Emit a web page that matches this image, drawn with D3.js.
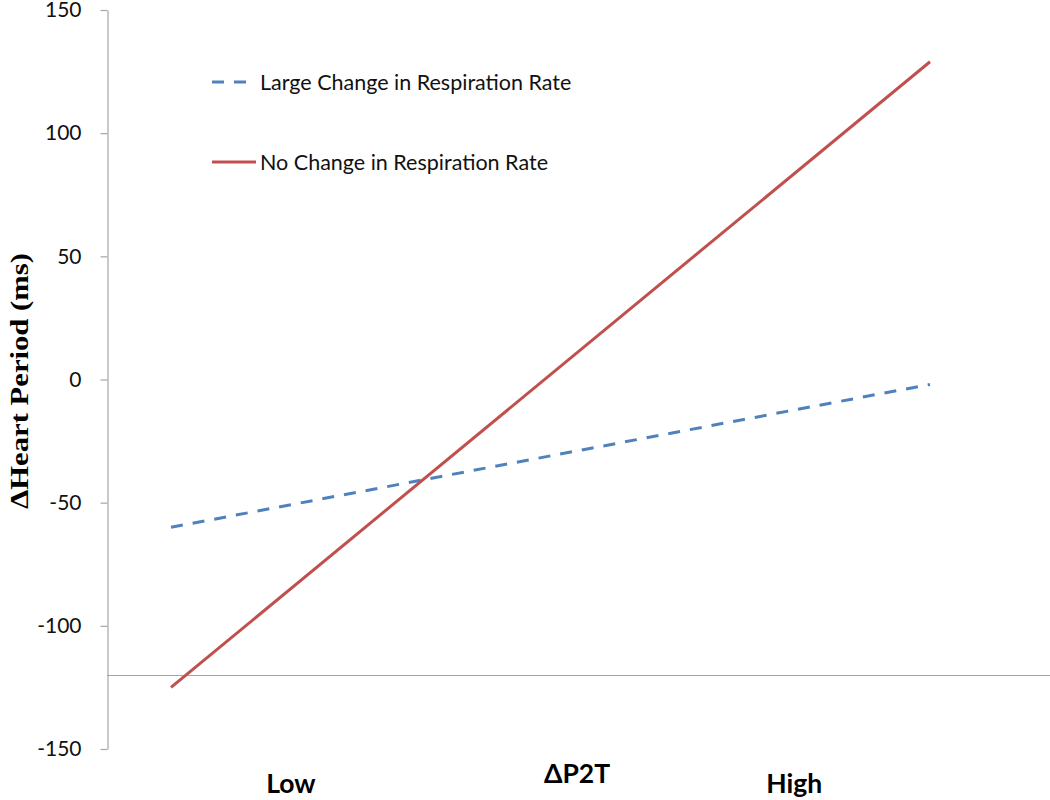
<!DOCTYPE html>
<html>
<head>
<meta charset="utf-8">
<script src="https://cdn.jsdelivr.net/npm/d3@7"></script>
<style>
  html, body { margin: 0; padding: 0; background: #fff; }
  svg { display: block; }
</style>
</head>
<body>
<div id="chart"></div>
<script>
// ── data ─────────────────────────────────────────────
const seriesNames = ['Large Change in Respiration Rate', 'No Change in Respiration Rate'];
const xPoints = [0, 1];              // low → high ΔP2T
const largeChange = [-60, -2];
const noChange = [-125, 129];
const yTicks = [-150, -100, -50, 0, 50, 100, 150];
const baselineValue = -120;
const xLabels = ['Low', 'ΔP2T', 'High'];
const xLabelPos = [0.158, 0.535, 0.821]; // in x-scale units

const W = 1050, H = 800;
const COLOR = { large: '#4f81bd', none: '#c0504d', axis: '#a6a6a6', text: '#111' };
const SANS = "Lato, 'Open Sans', sans-serif";

const svg = d3.select('#chart').append('svg')
  .attr('width', W).attr('height', H);

const x = d3.scaleLinear().domain([0, 1]).range([171, 930]);
const y = d3.scaleLinear().domain([-150, 150]).range([749, 10]);

// ── y axis ───────────────────────────────────────────
const yAxis = svg.append('g')
  .attr('transform', 'translate(107.5,0)')
  .call(d3.axisLeft(y).tickValues(yTicks).tickSize(7).tickPadding(19).tickSizeOuter(0)
    .tickFormat(d => String(d)));
yAxis.select('.domain').attr('stroke', COLOR.axis).attr('stroke-width', 1.2);
yAxis.selectAll('.tick line').attr('stroke', COLOR.axis).attr('stroke-width', 1.2);
yAxis.selectAll('.tick text')
  .attr('font-family', SANS)
  .attr('font-size', 21)
  .attr('fill', COLOR.text);

// horizontal category axis line
svg.append('line')
  .attr('x1', 107).attr('x2', W)
  .attr('y1', Math.round(y(baselineValue)) + 0.5).attr('y2', Math.round(y(baselineValue)) + 0.5)
  .attr('stroke', COLOR.axis).attr('stroke-width', 1.2);

// y title
svg.append('text')
  .attr('transform', `translate(28,381) rotate(-90)`)
  .attr('text-anchor', 'middle')
  .attr('font-family', "'Liberation Serif', 'DejaVu Serif', serif")
  .attr('font-weight', 'bold')
  .attr('font-size', 26)
  .attr('textLength', 256)
  .attr('lengthAdjust', 'spacingAndGlyphs')
  .attr('fill', '#000')
  .text('ΔHeart Period (ms)');

// ── lines ────────────────────────────────────────────
const line = d3.line().x(d => x(d[0])).y(d => y(d[1]));

svg.append('path')
  .datum(d3.zip(xPoints, largeChange))
  .attr('d', line)
  .attr('fill', 'none')
  .attr('stroke', COLOR.large)
  .attr('stroke-width', 3)
  .attr('stroke-dasharray', '12,10');

svg.append('path')
  .datum(d3.zip(xPoints, noChange))
  .attr('d', line)
  .attr('fill', 'none')
  .attr('stroke', COLOR.none)
  .attr('stroke-width', 3);

// ── x labels ─────────────────────────────────────────
const labelY = [793, 783, 793];
svg.selectAll('.xlab')
  .data(xLabels)
  .join('text')
  .attr('class', 'xlab')
  .attr('x', (d, i) => x(xLabelPos[i]))
  .attr('y', (d, i) => labelY[i])
  .attr('text-anchor', 'middle')
  .attr('font-family', SANS)
  .attr('font-weight', 'bold')
  .attr('font-size', 26.5)
  .attr('fill', '#000')
  .text(d => d);

// ── legend ───────────────────────────────────────────
const legend = svg.append('g').attr('transform', 'translate(212,0)');
const legendRows = [
  { name: seriesNames[0], color: COLOR.large, dash: '12,10', y: 82 },
  { name: seriesNames[1], color: COLOR.none, dash: null, y: 162 },
];
legendRows.forEach(r => {
  legend.append('line')
    .attr('x1', 0).attr('x2', r.dash ? 35 : 44)
    .attr('y1', r.y).attr('y2', r.y)
    .attr('stroke', r.color).attr('stroke-width', 3)
    .attr('stroke-dasharray', r.dash);
  legend.append('text')
    .attr('x', 48).attr('y', r.y).attr('dy', '0.35em')
    .attr('font-family', SANS)
    .attr('font-size', 21.5)
    .attr('fill', COLOR.text)
    .text(r.name);
});
</script>
</body>
</html>
